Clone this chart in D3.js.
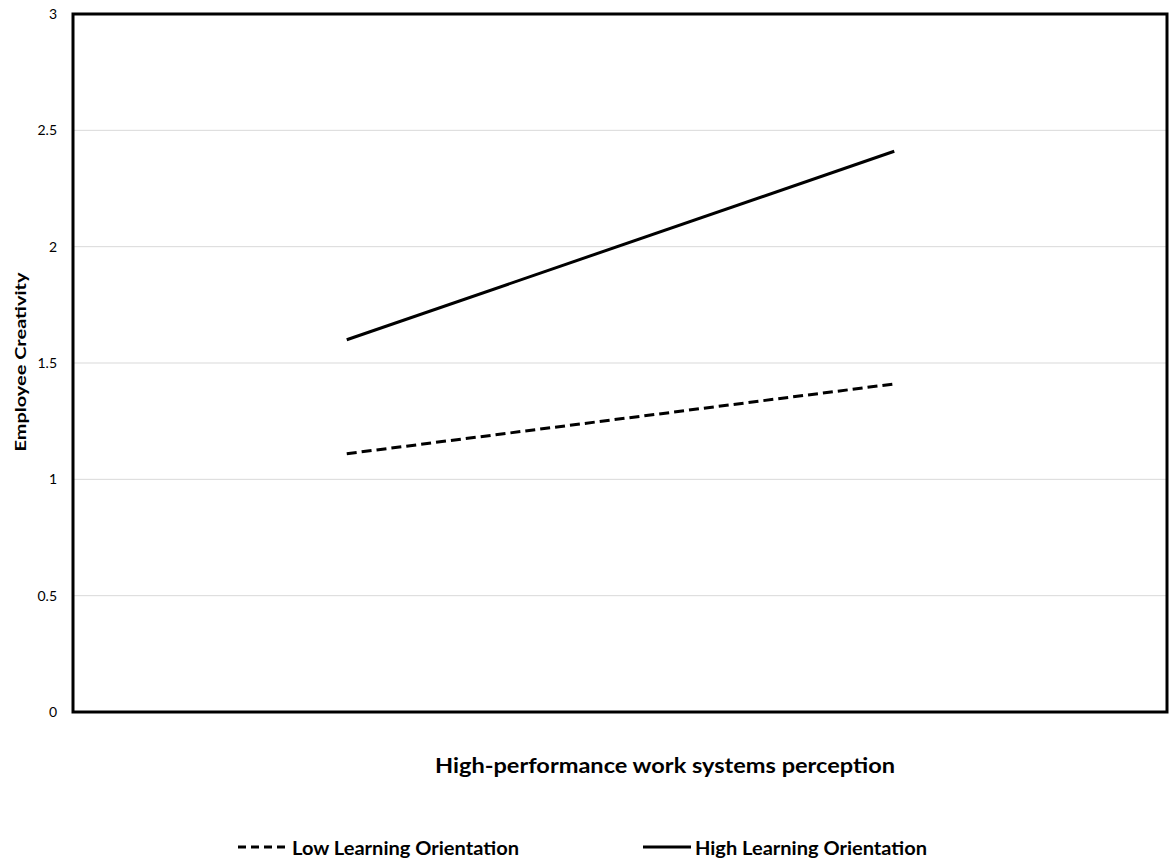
<!DOCTYPE html>
<html>
<head>
<meta charset="utf-8">
<script src="https://cdn.jsdelivr.net/npm/d3@7"></script>
<style>
  body { margin: 0; background: #fff; }
  svg { display: block; font-family: Lato, "Open Sans", "DejaVu Sans", sans-serif; }
</style>
</head>
<body>
<svg id="chart" width="1169" height="863"></svg>
<script>
// ---- data ----
const categories = ["Low", "High"];
const lowLearning = [1.11, 1.41];
const highLearning = [1.60, 2.41];
const yTicks = [0, 0.5, 1, 1.5, 2, 2.5, 3];
const seriesNames = ["Low Learning Orientation", "High Learning Orientation"];
const xTitle = "High-performance work systems perception";
const yTitle = "Employee Creativity";

// ---- layout ----
const svg = d3.select("#chart");
const plot = { left: 73, top: 14, right: 1167, bottom: 712 };

const x = d3.scalePoint().domain(categories).range([plot.left, 1168]).padding(0.5);
const y = d3.scaleLinear().domain([0, 3]).range([plot.bottom, plot.top]);

// gridlines
svg.append("g").selectAll("line")
  .data(yTicks.filter(t => t > 0 && t < 3))
  .join("line")
  .attr("x1", plot.left).attr("x2", plot.right)
  .attr("y1", d => y(d)).attr("y2", d => y(d))
  .attr("stroke", "#d9d9d9").attr("stroke-width", 1);

// y axis labels
const yAxis = d3.axisLeft(y).tickValues(yTicks).tickSize(0).tickPadding(16)
  .tickFormat(d => String(d));
const gy = svg.append("g").attr("transform", `translate(${plot.left},0)`).call(yAxis);
gy.select(".domain").remove();
gy.selectAll("text").attr("font-size", 14).attr("fill", "#000")
  .attr("font-family", "Lato, 'Open Sans', sans-serif");

// border
svg.append("rect")
  .attr("x", plot.left).attr("y", plot.top)
  .attr("width", plot.right - plot.left).attr("height", plot.bottom - plot.top)
  .attr("fill", "none").attr("stroke", "#000").attr("stroke-width", 3);

// lines
const line = d3.line().x((d, i) => x(categories[i])).y(d => y(d));
svg.append("path").datum(lowLearning)
  .attr("d", line).attr("fill", "none").attr("stroke", "#000")
  .attr("stroke-width", 3).attr("stroke-dasharray", "10,5");
svg.append("path").datum(highLearning)
  .attr("d", line).attr("fill", "none").attr("stroke", "#000")
  .attr("stroke-width", 3);

// axis titles
svg.append("text")
  .attr("x", 665).attr("y", 773)
  .attr("text-anchor", "middle")
  .attr("font-size", 20).attr("font-weight", "bold")
  .attr("textLength", 460).attr("lengthAdjust", "spacingAndGlyphs")
  .text(xTitle);

svg.append("text")
  .attr("transform", "translate(26,362) rotate(-90)")
  .attr("text-anchor", "middle")
  .attr("font-size", 16).attr("font-weight", "bold")
  .attr("textLength", 179).attr("lengthAdjust", "spacingAndGlyphs")
  .text(yTitle);

// legend
const legY = 847;
svg.append("line")
  .attr("x1", 238).attr("x2", 289).attr("y1", legY).attr("y2", legY)
  .attr("stroke", "#000").attr("stroke-width", 3).attr("stroke-dasharray", "8,5");
svg.append("text")
  .attr("x", 292).attr("y", 855)
  .attr("font-size", 18).attr("font-weight", "bold")
  .attr("textLength", 227).attr("lengthAdjust", "spacingAndGlyphs")
  .text(seriesNames[0]);

svg.append("line")
  .attr("x1", 643).attr("x2", 691).attr("y1", legY).attr("y2", legY)
  .attr("stroke", "#000").attr("stroke-width", 3);
svg.append("text")
  .attr("x", 695).attr("y", 855)
  .attr("font-size", 18).attr("font-weight", "bold")
  .attr("textLength", 232).attr("lengthAdjust", "spacingAndGlyphs")
  .text(seriesNames[1]);
</script>
</body>
</html>
